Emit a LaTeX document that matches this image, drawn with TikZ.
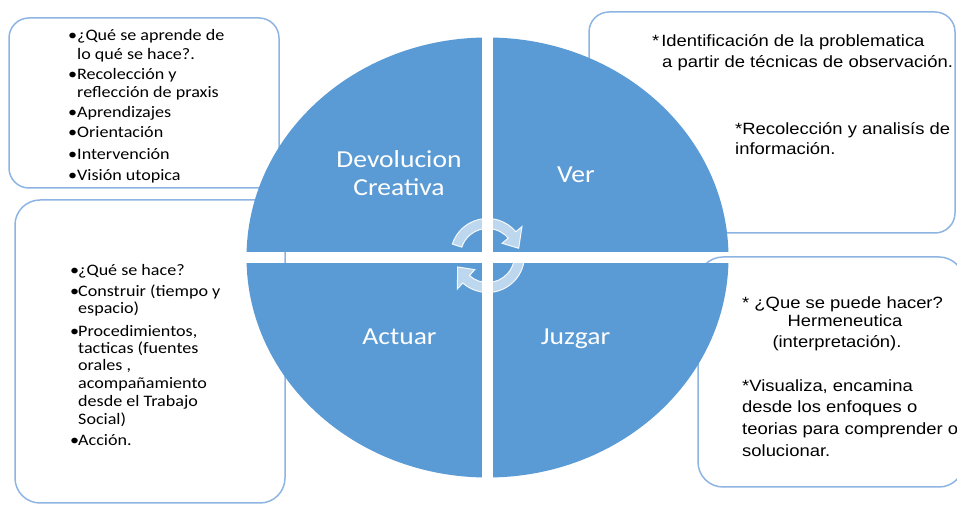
\documentclass[tikz,border=0pt]{standalone}
\usepackage{fontspec}
\newfontfamily\calib[FakeStretch=1.13]{Carlito}
\newfontfamily\arialf[FakeStretch=1.13]{Liberation Sans}
\definecolor{qblue}{HTML}{5B9BD5}
\definecolor{boxblue}{HTML}{8DB4E2}
\newcommand\blt[1]{\makebox[#1pt][l]{•}}
\begin{document}
\begin{tikzpicture}[x=1pt,y=1pt,
  box/.style={draw=boxblue, line width=1.5pt, rounded corners=20pt},
  quad/.style={fill=qblue},
  cycarrow/.style={fill=white, fill opacity=0.6, draw=white, draw opacity=0.9, line width=1pt},
  qlab/.style={text=white, font=\calib\fontsize{24.4}{28}\selectfont, inner sep=0pt, anchor=base},
  ltx/.style={font=\calib\fontsize{16}{19}\selectfont, anchor=base west, inner sep=0pt},
  rtx/.style={font=\arialf\fontsize{16.3}{20}\selectfont, anchor=base west, inner sep=0pt},
  rtxc/.style={rtx, anchor=base}]
\useasboundingbox (0,0) rectangle (957,505);
\clip (0,0) rectangle (957,505);

% side boxes
\draw[box] (9,317) rectangle (279,487);
\draw[box, rounded corners=25pt] (15,2) rectangle (285,305);
\draw[box] (589,272) rectangle (955,493);
\draw[box, rounded corners=25pt] (698,18) rectangle (964,248);

% four quadrants of the ellipse
\begin{scope}
  \clip (487.5,247.5) ellipse [x radius=241, y radius=220];
  \fill[quad] (240,253) rectangle (482,470);
  \fill[quad] (493,253) rectangle (735,470);
  \fill[quad] (240,20) rectangle (482,242);
  \fill[quad] (493,20) rectangle (735,242);
\end{scope}

% circular arrows
\begin{scope}[shift={(487.5,249.5)}]
  \filldraw[cycarrow] (162:37) arc[start angle=162, end angle=40, radius=37]
     -- (40:45) -- (13:32) -- (40:19) -- (40:27)
     arc[start angle=40, end angle=162, radius=27] -- cycle;
  \filldraw[cycarrow, rotate=188] (162:37) arc[start angle=162, end angle=40, radius=37]
     -- (40:45) -- (13:32) -- (40:19) -- (40:27)
     arc[start angle=40, end angle=162, radius=27] -- cycle;
\end{scope}

% quadrant labels
\node[qlab] (dv1) at (399,337) {Devolucion};
\node[qlab] (dv2) at (399,309) {Creativa};
\node[qlab] (ver) at (576,322) {Ver};
\node[qlab] (act) at (399.5,160) {Actuar};
\node[qlab] (juz) at (575.5,160) {Juzgar};

% upper-left box text
\node[ltx] (ul1) at (68,464) {\blt{9}¿Qué se aprende de};
\node[ltx] (ul2) at (77,445) {lo qué se hace?.};
\node[ltx] (ul3) at (68,425) {\blt{9}Recolección y};
\node[ltx] (ul4) at (77,407) {reflección de praxis};
\node[ltx] (ul5) at (68,387) {\blt{9}Aprendizajes};
\node[ltx] (ul6) at (68,367) {\blt{9}Orientación};
\node[ltx] (ul7) at (68,345) {\blt{9}Intervención};
\node[ltx] (ul8) at (68,324) {\blt{9}Visión utopica};

% lower-left box text
\node[ltx] (ll1) at (70,229) {\blt{8}¿Qué se hace?};
\node[ltx] (ll2) at (70,208) {\blt{8}Construir (tiempo y};
\node[ltx] (ll3) at (78,191) {espacio)};
\node[ltx] (ll4) at (70,168) {\blt{8}Procedimientos,};
\node[ltx] (ll5) at (78,151) {tacticas (fuentes};
\node[ltx] (ll6) at (78,134) {orales ,};
\node[ltx] (ll7) at (78,116) {acompañamiento};
\node[ltx] (ll8) at (78,98) {desde el Trabajo};
\node[ltx] (ll9) at (78,80) {Social)};
\node[ltx] (ll10) at (70,59) {\blt{8}Acción.};

% upper-right box text
\node[rtx] (ur1) at (652,458) {*\kern2pt Identificación de la problematica};
\node[rtx] (ur2) at (662,437) {a partir de técnicas de observación.};
\node[rtx] (ur3) at (735,370) {*Recolección y analisís de};
\node[rtx] (ur4) at (735,350) {información.};

% lower-right box text
\node[rtx] (lr1) at (742,196) {* ¿Que se puede hacer?};
\node[rtxc] (lr2) at (845,178) {Hermeneutica};
\node[rtxc] (lr3) at (837,157) {(interpretación).};
\node[rtx] (lr4) at (742,113) {*Visualiza, encamina};
\node[rtx] (lr5) at (742,92) {desde los enfoques o};
\node[rtx] (lr6) at (742,70) {teorias para comprender o};
\node[rtx] (lr7) at (742,48) {solucionar.};
\end{tikzpicture}
\end{document}
